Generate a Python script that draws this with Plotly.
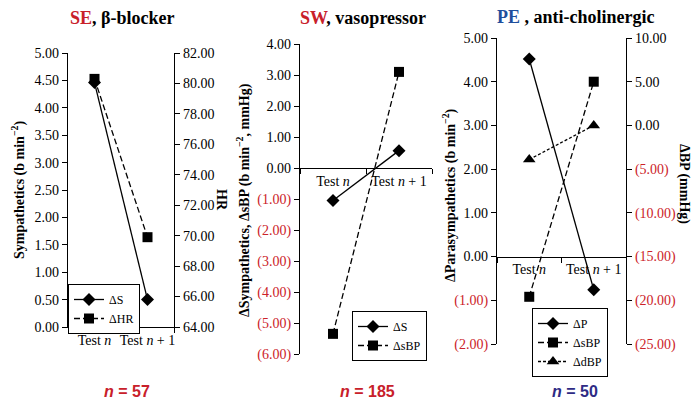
import plotly.graph_objects as go

# ---------------- data ----------------
categories = ["Test <i>n</i>", "Test <i>n</i> + 1"]

se_dS = [4.46, 0.50]
se_dHR = [80.3, 69.9]

sw_dS = [-1.05, 0.56]
sw_dsBP = [-5.35, 3.10]

pe_dP = [4.52, -0.76]
pe_dsBP = [-19.6, 5.0]
pe_ddBP = [-3.9, 0.0]

se_left_ticks = [0, 0.5, 1, 1.5, 2, 2.5, 3, 3.5, 4, 4.5, 5]
se_right_ticks = [64, 66, 68, 70, 72, 74, 76, 78, 80, 82]
sw_left_ticks = [-6, -5, -4, -3, -2, -1, 0, 1, 2, 3, 4]
pe_left_ticks = [-2, -1, 0, 1, 2, 3, 4, 5]
pe_right_ticks = [-25, -20, -15, -10, -5, 0, 5, 10]

titles = ["<b><span style='color:#c8202a'>SE</span>, β-blocker</b>",
          "<b><span style='color:#c8202a'>SW</span>, vasopressor</b>",
          "<b><span style='color:#1f4f9c'>PE</span> , anti-cholinergic</b>"]
n_labels = ["<b><i>n</i> = 57</b>", "<b><i>n</i> = 185</b>", "<b><i>n</i> = 50</b>"]
n_colors = ["#c8202a", "#c8202a", "#2e2b85"]

RED = "#cc2229"
SERIF = "Liberation Serif, Times New Roman, serif"

W, H, OFF = 700, 400, 8  # page body margin offset


def px(x):
    return (x - OFF) / W


def py(y):
    return 1 - (y - OFF) / H


def fmt(v):
    if v < 0:
        return "<span style='color:%s'>(%.2f)</span>" % (RED, -v)
    return "%.2f" % v


def ytick(vals):
    return dict(tickmode="array", tickvals=vals, ticktext=[fmt(v) for v in vals])


fig = go.Figure()

line_solid = dict(color="black", width=1.3)
line_dash = dict(color="black", width=1.3, dash="6px,3px")
line_dot = dict(color="black", width=1.3, dash="3px,2px")
m_dia = dict(symbol="diamond", size=10, color="black")
m_sq = dict(symbol="square", size=10, color="black")
m_tri = dict(symbol="triangle-up", size=11, color="black")

# Panel 1
fig.add_trace(go.Scatter(x=categories, y=se_dS, name="ΔS", mode="lines+markers",
                         line=line_solid, marker=m_dia, xaxis="x", yaxis="y", legend="legend"))
fig.add_trace(go.Scatter(x=categories, y=se_dHR, name="ΔHR", mode="lines+markers",
                         line=line_dash, marker=m_sq, xaxis="x", yaxis="y2", legend="legend"))
# Panel 2
fig.add_trace(go.Scatter(x=categories, y=sw_dS, name="ΔS", mode="lines+markers",
                         line=line_solid, marker=m_dia, xaxis="x2", yaxis="y3", legend="legend2"))
fig.add_trace(go.Scatter(x=categories, y=sw_dsBP, name="ΔsBP", mode="lines+markers",
                         line=line_dash, marker=m_sq, xaxis="x2", yaxis="y3", legend="legend2"))
# Panel 3
fig.add_trace(go.Scatter(x=categories, y=pe_dP, name="ΔP", mode="lines+markers",
                         line=line_solid, marker=m_dia, xaxis="x3", yaxis="y4", legend="legend3"))
fig.add_trace(go.Scatter(x=categories, y=pe_dsBP, name="ΔsBP", mode="lines+markers",
                         line=line_dash, marker=m_sq, xaxis="x3", yaxis="y5", legend="legend3"))
fig.add_trace(go.Scatter(x=categories, y=pe_ddBP, name="ΔdBP", mode="lines+markers",
                         line=line_dot, marker=m_tri, xaxis="x3", yaxis="y5", legend="legend3"))

tickfont = dict(family=SERIF, size=14, color="black")
common_y = dict(showline=True, linecolor="black", linewidth=1.2, ticks="outside", ticklen=5,
                tickcolor="black", showgrid=False, zeroline=False, tickfont=tickfont, automargin=False)
common_x = dict(type="category", range=[-0.5, 1.5], showline=True, linecolor="black", linewidth=1.2,
                ticks="outside", ticklen=5, tickcolor="black", tickson="boundaries", tickangle=0,
                showgrid=False, zeroline=False, tickfont=tickfont, automargin=False)

# plot areas in target pixels (left, right, top, bottom)
p1 = (68, 174, 53, 327)
p2 = (300, 432, 44, 354)
p3 = (497, 626, 38, 344)


def xdom(p):
    return [px(p[0]), px(p[1])]


def ydom(p):
    return [py(p[3]), py(p[2])]


def zero_pos(dom, rng):
    return dom[0] + (0 - rng[0]) / (rng[1] - rng[0]) * (dom[1] - dom[0])


r2 = [-6, 4]
r3 = [-2, 5]

fig.update_layout(
    width=W, height=H, margin=dict(l=0, r=0, t=0, b=0, autoexpand=False),
    paper_bgcolor="white", plot_bgcolor="rgba(0,0,0,0)",
    xaxis=dict(domain=xdom(p1), anchor="y", **common_x),
    yaxis=dict(domain=ydom(p1), anchor="x", range=[0, 5], **ytick(se_left_ticks), **common_y),
    yaxis2=dict(overlaying="y", side="right", anchor="x", range=[64, 82], **ytick(se_right_ticks), **common_y),
    xaxis2=dict(domain=xdom(p2), anchor="free", position=zero_pos(ydom(p2), r2), **common_x),
    yaxis3=dict(domain=ydom(p2), anchor="x2", range=r2, **ytick(sw_left_ticks), **common_y),
    xaxis3=dict(domain=xdom(p3), anchor="free", position=zero_pos(ydom(p3), r3), **common_x),
    yaxis4=dict(domain=ydom(p3), anchor="x3", range=r3, **ytick(pe_left_ticks), **common_y),
    yaxis5=dict(overlaying="y4", side="right", anchor="x3", range=[-25, 10], **ytick(pe_right_ticks), **common_y),
    showlegend=True,
)

leg_common = dict(xref="paper", yref="paper", xanchor="left", yanchor="top", bgcolor="white",
                  bordercolor="black", borderwidth=1, font=dict(family=SERIF, size=12, color="black"),
                  itemwidth=30, tracegroupgap=0)
fig.update_layout(
    legend=dict(x=px(68), y=py(284), **leg_common),
    legend2=dict(x=px(352), y=py(311), **leg_common),
    legend3=dict(x=px(532), y=py(308), **leg_common),
)

# titles and n labels
title_x = [122, 363, 576]
title_y = [18, 18, 17]
for tx, ty, t in zip(title_x, title_y, titles):
    fig.add_annotation(x=px(tx), y=py(ty), xref="paper", yref="paper", text=t, showarrow=False,
                       font=dict(family=SERIF, size=18, color="black"), xanchor="center", yanchor="middle")
n_x = [127, 368, 575]
for nx, t, c in zip(n_x, n_labels, n_colors):
    fig.add_annotation(x=px(nx), y=py(391), xref="paper", yref="paper", text=t, showarrow=False,
                       font=dict(family="Liberation Sans", size=16, color=c), xanchor="center", yanchor="middle")

# axis titles
axis_titles = [
    ("Sympathetics (b min<sup>−2</sup>)", 18, 190, -90),
    ("HR", 222, 200, 90),
    ("ΔSympathetics, ΔsBP (b min<sup>−2</sup>, mmHg)", 243, 200, -90),
    ("ΔParasympathetics (b min<sup>−2</sup>)", 449, 195, -90),
    ("ΔBP (mmHg)", 684, 184, 90),
]
for txt, ax_, ay_, ang in axis_titles:
    fig.add_annotation(x=px(ax_), y=py(ay_), xref="paper", yref="paper", text="<b>" + txt + "</b>",
                       showarrow=False, textangle=ang, font=dict(family=SERIF, size=14, color="black"),
                       xanchor="center", yanchor="middle")

fig.write_html("out.html")
